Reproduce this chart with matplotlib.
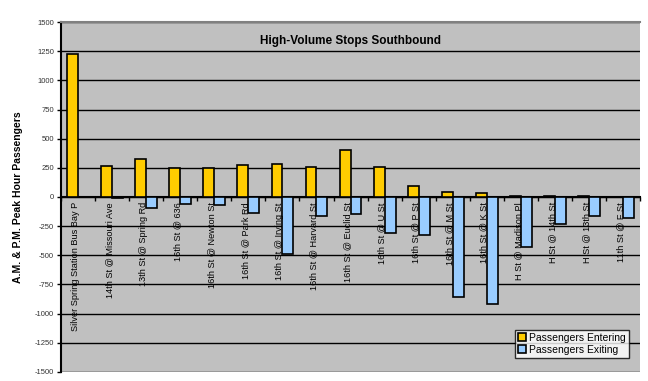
import numpy as np
import matplotlib.pyplot as plt

stops = [
    "Silver Spring Station Bus Bay P",
    "14th St @ Missouri Ave",
    "13th St @ Spring Rd",
    "16th St @ 636",
    "16th St @ Newton St",
    "16th St @ Park Rd",
    "16th St @ Irving St",
    "16th St @ Harvard St",
    "16th St @ Euclid St",
    "16th St @ U St",
    "16th St @ P St",
    "16th St @ M St",
    "16th St @ K St",
    "H St @ Madison Pl",
    "H St @ 14th St",
    "H St @ 13th St",
    "11th St @ F St",
]
entering = [1230, 265, 325, 250, 245, 275, 285, 258, 404, 258, 95, 40, 30, 10, 10, 5, 0]
exiting = [0, -10, -95, -60, -70, -140, -490, -160, -145, -310, -325, -860, -920, -430, -230, -165, -180]
yticks = np.arange(-1500, 1501, 250)

plt.rcParams['font.family'] = ['Liberation Sans', 'DejaVu Sans']

fig = plt.figure(figsize=(6.48, 3.81), dpi=100)
ax = fig.add_axes([0.094, 0.024, 0.894, 0.918])
ax.set_facecolor('#C0C0C0')

x = np.arange(len(stops))
w = 0.32
ax.bar(x - w / 2, entering, w, color='#FFCC00', edgecolor='black', linewidth=1.2,
       label='Passengers Entering', zorder=3)
ax.bar(x + w / 2, exiting, w, color='#99CCFF', edgecolor='black', linewidth=1.2,
       label='Passengers Exiting', zorder=3)

ax.set_xlim(-0.5, len(stops) - 0.5)
ax.set_ylim(-1500, 1500)
ax.set_yticks(yticks)
ax.set_yticklabels([str(v) for v in yticks], fontsize=5.5, color='#333333')
ax.tick_params(axis='y', direction='out', length=3, width=1, pad=2)
for v in yticks:
    ax.axhline(v, color='black', linewidth=1, zorder=1)

# category axis sits on zero, with boundary ticks
ax.spines['bottom'].set_position(('data', 0))
ax.spines['bottom'].set_linewidth(1.5)
ax.set_xticks(np.arange(len(stops) + 1) - 0.5)
ax.set_xticklabels([])
ax.tick_params(axis='x', direction='out', length=3, width=1)
ax.spines['left'].set_linewidth(1.5)
ax.spines['top'].set_color('#808080')
ax.spines['top'].set_linewidth(1.5)
ax.spines['right'].set_visible(False)

for i, name in enumerate(stops):
    ax.text(i - 0.08, -45, name, rotation=90, ha='center', va='top',
            fontsize=6.6, color='black', zorder=4)

ax.text(0.5, 0.946, 'High-Volume Stops Southbound', transform=ax.transAxes,
        ha='center', va='center', fontsize=8.5, fontweight='bold', zorder=5)
ax.set_ylabel('A.M. & P.M. Peak Hour Passengers', fontsize=7.5, fontweight='bold',
              labelpad=8)

leg = ax.legend(loc='lower right', fontsize=7.5, frameon=True, fancybox=False,
                edgecolor='black', handlelength=0.8, handleheight=0.8,
                handletextpad=0.3, borderpad=0.3, labelspacing=0.2,
                bbox_to_anchor=(0.99, 0.025))
leg.get_frame().set_linewidth(1)
leg.set_zorder(6)

fig.savefig('out.png', dpi=100)
